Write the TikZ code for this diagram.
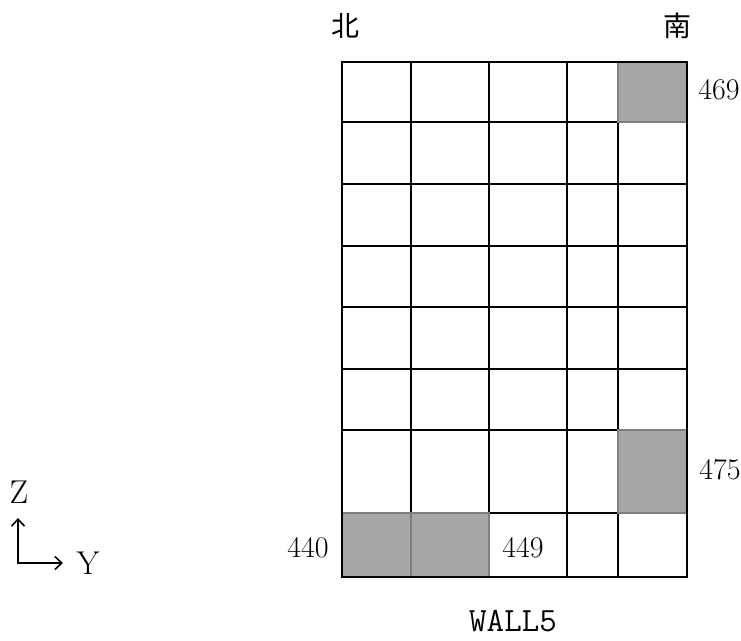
\documentclass[tikz,border=0pt]{standalone}
\usepackage{fontspec}
\newfontfamily\cjk{Noto Sans CJK SC}
\usetikzlibrary{arrows.meta}
\definecolor{ink}{HTML}{000000}
\definecolor{shade}{HTML}{A6A6A6}
\definecolor{shadeline}{HTML}{7F7F7F}
\tikzset{
  cellline/.style = {draw=ink, line width=1.6pt},
  hot/.style      = {fill=shade, draw=shadeline, line width=1.6pt},
  num/.style      = {font=\fontsize{30}{32}\selectfont, text=ink, inner sep=0pt},
  dir/.style      = {font=\cjk\fontsize{28}{30}\selectfont, text=ink, inner sep=0pt},
  wall/.style     = {font=\ttfamily\fontsize{34}{36}\selectfont, text=ink, inner sep=0pt},
  axlbl/.style    = {font=\fontsize{33}{35}\selectfont, text=ink, inner sep=0pt},
  axis/.style     = {{Straight Barb[length=7pt,width=13pt]}-{Straight Barb[length=7pt,width=13pt]},
                     draw=ink, line width=1.6pt},
}
\begin{document}
\begin{tikzpicture}[x=1pt,y=-1pt]
  \useasboundingbox (0,0) rectangle (741,640);
  % grid lines
  \foreach \x in {342,411,489,567,618,687}
    \draw[cellline] (\x,62) -- (\x,577);
  \foreach \y in {62,122,184,246,307,369,430,513,577}
    \draw[cellline] (342,\y) -- (687,\y);
  % shaded cells
  \foreach \xa/\ya/\xb/\yb in {618/62/687/122, 618/430/687/513,
                              342/513/411/577, 411/513/489/577}
    \filldraw[hot] (\xa,\ya) rectangle (\xb,\yb);
  \draw[cellline] (342,62) rectangle (687,577);
  % labels
  \node[dir] (north) at (345,26) {北};
  \node[dir] (south) at (677,26) {南};
  \node[num] (n469) at (719,90) {469};
  \node[num] (n475) at (720,470) {475};
  \node[num] (n440) at (308,548) {440};
  \node[num] (n449) at (523,548) {449};
  \node[wall] (wall) at (513,621) {WALL5};
  % axes
  \coordinate (ztip) at (18,518);
  \coordinate (ytip) at (63,563);
  \draw[axis] (ztip) |- (ytip);
  \node[axlbl] (zlbl) at (19,492) {Z};
  \node[axlbl] (ylbl) at (88,563) {Y};
\end{tikzpicture}
\end{document}
